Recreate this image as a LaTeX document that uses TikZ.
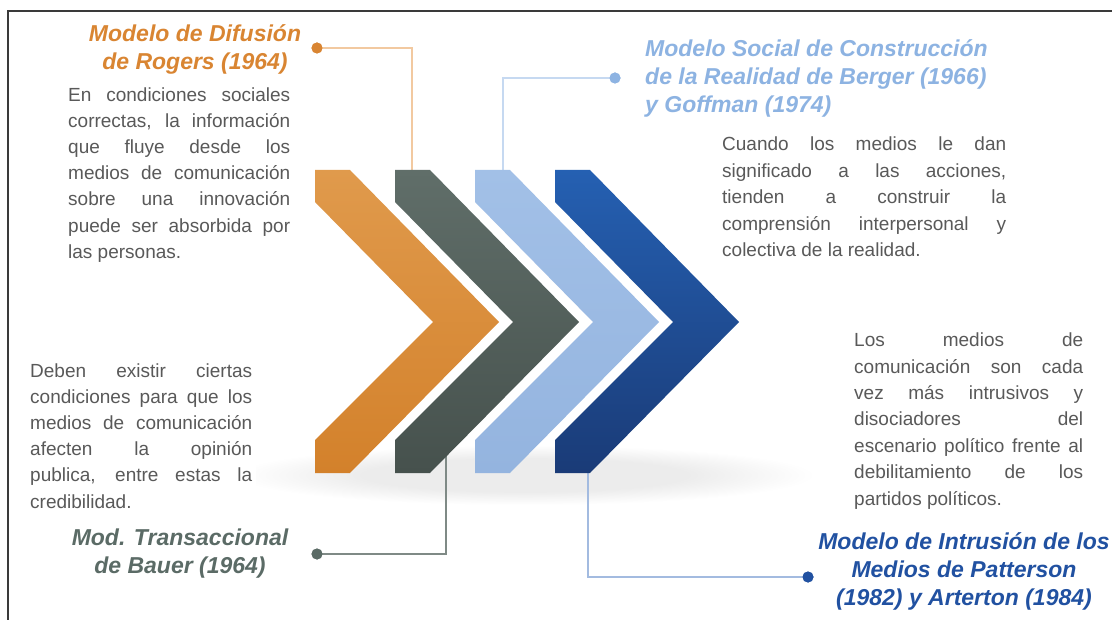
\documentclass[tikz,border=0pt]{standalone}
\usepackage{fontspec}
\setmainfont{Liberation Sans}
\definecolor{framec}{HTML}{3A3A3A}
\definecolor{bodyc}{HTML}{595959}
\definecolor{orT}{HTML}{E09A4C}
\definecolor{orB}{HTML}{D3812B}
\definecolor{grT}{HTML}{606E69}
\definecolor{grB}{HTML}{46514D}
\definecolor{lbT}{HTML}{A2C0E7}
\definecolor{lbB}{HTML}{94B4DF}
\definecolor{dbT}{HTML}{2560B2}
\definecolor{dbB}{HTML}{1A3B77}
\definecolor{orTitle}{HTML}{D98532}
\definecolor{grTitle}{HTML}{5B6B66}
\definecolor{lbTitle}{HTML}{8DB3E2}
\definecolor{dbTitle}{HTML}{2151A1}
\definecolor{orLine}{HTML}{F2C9A0}
\definecolor{grLine}{HTML}{7F8A86}
\definecolor{lbLine}{HTML}{C6D9F1}
\definecolor{dbLine}{HTML}{A3BBE0}
\definecolor{shadowc}{HTML}{ECECEC}
\pgfdeclareradialshading{softshadow}{\pgfpoint{0bp}{0bp}}{color(0bp)=(shadowc); color(14bp)=(shadowc); color(25bp)=(white); color(50bp)=(white)}
\newcommand\JL[2]{\makebox[#1][s]{#2}}
\begin{document}
\begin{tikzpicture}[x=1pt,y=-1pt,
  titletext/.style={font=\fontsize{23}{27.9}\selectfont\bfseries\itshape, inner sep=0pt},
  bodytext/.style={font=\fontsize{19}{26.2}\selectfont, text=bodyc, inner sep=0pt, align=left, anchor=base west},
  dot/.style={circle, inner sep=0pt, minimum size=11pt},
  conn/.style={line width=1.1pt}]
\useasboundingbox (0,0) rectangle (1112,620);
\fill[white] (0,0) rectangle (1112,620);
% shadow under the chevrons
\shade[shading=softshadow] (525,475) ellipse (290 and 30);
\fill[white] (25,355) rectangle (256,520);
\draw[framec, line width=2pt] (8,620) -- (8,11) -- (1112,11);
% connector ends (inside chevrons)
\coordinate (cO) at (412,190);
\coordinate (cL) at (503,190);
\coordinate (cG) at (446,440);
\coordinate (cD) at (588,460);
% dots
\node[dot, fill=orTitle] (dO) at (317,48) {};
\node[dot, fill=lbTitle] (dL) at (615,78) {};
\node[dot, fill=grTitle] (dG) at (317,554) {};
\node[dot, fill=dbTitle] (dD) at (808,577) {};
\draw[conn, orLine] (dO.center) -| (cO);
\draw[conn, lbLine] (dL.center) -| (cL);
\draw[conn, grLine] (dG.center) -| (cG);
\draw[conn, dbLine] (dD.center) -| (cD);
% chevrons
\foreach \x/\ct/\cb in {315/orT/orB, 395/grT/grB, 475/lbT/lbB, 555/dbT/dbB}{
  \shade[top color=\ct, bottom color=\cb] (\x,170) -- ++(35,0) -- ++(149,152) -- ++(-149,151) -- ++(-35,0) -- ++(0,-33) -- ++(118,-118) -- ++(-118,-120) -- cycle;
}
% redraw dots on top
\node[dot, fill=orTitle] at (dO) {};
\node[dot, fill=lbTitle] at (dL) {};
\node[dot, fill=grTitle] at (dG) {};
\node[dot, fill=dbTitle] at (dD) {};
% titles (anchor base = baseline of the last line)
\node[titletext, text=orTitle, align=center, anchor=base] (tO) at (195,69.8) {Modelo de Difusión\\de Rogers (1964)};
\node[titletext, text=lbTitle, align=left, anchor=base west] (tL) at (645,112.6) {Modelo Social de Construcción\\de la Realidad de Berger (1966)\\y Goffman (1974)};
\node[titletext, text=grTitle, align=center, anchor=base] (tG) at (180,573) {Mod. Transaccional\\de Bauer (1964)};
\node[titletext, text=dbTitle, align=center, anchor=base] (tD) at (964,605.5) {Modelo de Intrusión de los\\Medios de Patterson\\(1982) y Arterton (1984)};
% body texts
\node[bodytext] (bO) at (68,258.3) {\JL{222pt}{En condiciones sociales}\\\JL{222pt}{correctas, la información}\\\JL{222pt}{que fluye desde los}\\\JL{222pt}{medios de comunicación}\\\JL{222pt}{sobre una innovación}\\\JL{222pt}{puede ser absorbida por}\\las personas.};
\node[bodytext, font=\fontsize{19}{26.5}\selectfont] (bL) at (722,256.7) {\JL{284pt}{Cuando los medios le dan}\\\JL{284pt}{significado a las acciones,}\\\JL{284pt}{tienden a construir la}\\\JL{284pt}{comprensión interpersonal y}\\colectiva de la realidad.};
\node[bodytext] (bG) at (30,508) {\JL{222pt}{Deben existir ciertas}\\\JL{222pt}{condiciones para que los}\\\JL{222pt}{medios de comunicación}\\\JL{222pt}{afecten la opinión}\\\JL{222pt}{publica, entre estas la}\\credibilidad.};
\node[bodytext, font=\fontsize{19}{26.4}\selectfont] (bD) at (854,505) {\JL{229pt}{Los medios de}\\\JL{229pt}{comunicación son cada}\\\JL{229pt}{vez más intrusivos y}\\\JL{229pt}{disociadores del}\\\JL{229pt}{escenario político frente al}\\\JL{229pt}{debilitamiento de los}\\partidos políticos.};
\end{tikzpicture}
\end{document}
